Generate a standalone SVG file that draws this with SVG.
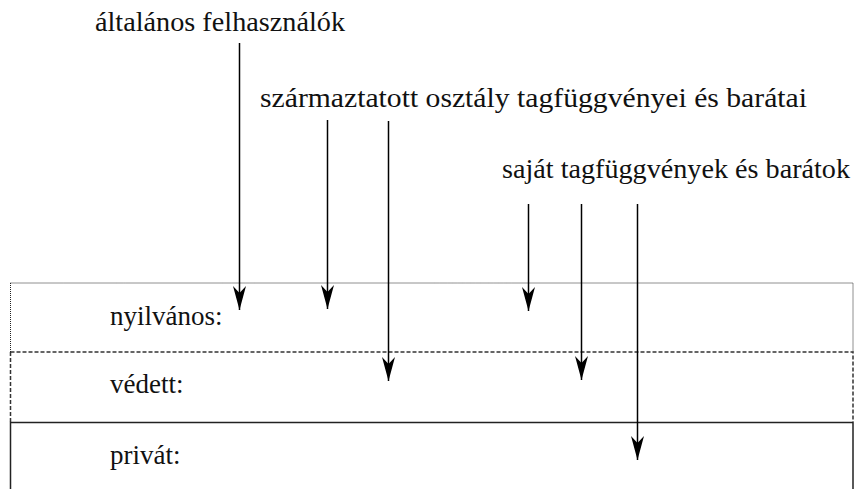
<svg xmlns="http://www.w3.org/2000/svg" width="855" height="489" viewBox="0 0 855 489">
  <style>
    .t { font-family: "Liberation Serif", Tinos, "Nimbus Roman", "Nimbus Roman No9 L", FreeSerif, "DejaVu Serif", "Noto Serif", Gelasio, Georgia, "Times New Roman", Times, serif; font-size: 28px; fill: #111; }
    .lbl { font-size: 27px; }
    .conn { stroke: #000; stroke-width: 1.5; fill: none; }
    .dot { stroke: #222; stroke-width: 1; fill: none; stroke-dasharray: 1 1; }
    .dash { stroke: #333; stroke-width: 1.5; fill: none; stroke-dasharray: 4 2; }
    .solid { stroke: #222; stroke-width: 1.5; fill: none; }
  </style>
  <defs>
    <marker id="ah" viewBox="-25 -7 26 14" refX="0" refY="0" markerWidth="26" markerHeight="14" markerUnits="userSpaceOnUse" orient="auto">
      <path d="M0,0 L-24,-6.5 L-17,0 L-24,6.5 Z" fill="#000"/>
    </marker>
  </defs>

  <g id="sections">
    <g id="public">
      <path class="dot" d="M10.5,283 H853 V352 M10.5,283 V352"/>
      <text class="t lbl" x="110" y="325">nyilvános:</text>
    </g>
    <g id="protected">
      <path class="dash" d="M10.5,352 H853 V422 M10.5,352 V422"/>
      <text class="t lbl" x="110" y="393">védett:</text>
    </g>
    <g id="private">
      <path class="solid" d="M10.5,489 V422.5 H853 V489"/>
      <text class="t lbl" x="110" y="464">privát:</text>
    </g>
  </g>

  <g id="users">
    <text class="t" x="95" y="31" textLength="250" lengthAdjust="spacingAndGlyphs">általános felhasználók</text>
  </g>
  <g id="derived">
    <text class="t" x="260" y="107" textLength="547" lengthAdjust="spacingAndGlyphs">származtatott osztály tagfüggvényei és barátai</text>
  </g>
  <g id="own">
    <text class="t" x="502" y="178" textLength="348" lengthAdjust="spacingAndGlyphs">saját tagfüggvények és barátok</text>
  </g>

  <g id="connectors">
    <path class="conn" d="M239.5,43 V310" marker-end="url(#ah)"/>
    <path class="conn" d="M327.5,120 V309" marker-end="url(#ah)"/>
    <path class="conn" d="M388.5,121 V381" marker-end="url(#ah)"/>
    <path class="conn" d="M528.5,204 V311" marker-end="url(#ah)"/>
    <path class="conn" d="M581.5,204 V380" marker-end="url(#ah)"/>
    <path class="conn" d="M637.5,204 V460" marker-end="url(#ah)"/>
  </g>
</svg>
